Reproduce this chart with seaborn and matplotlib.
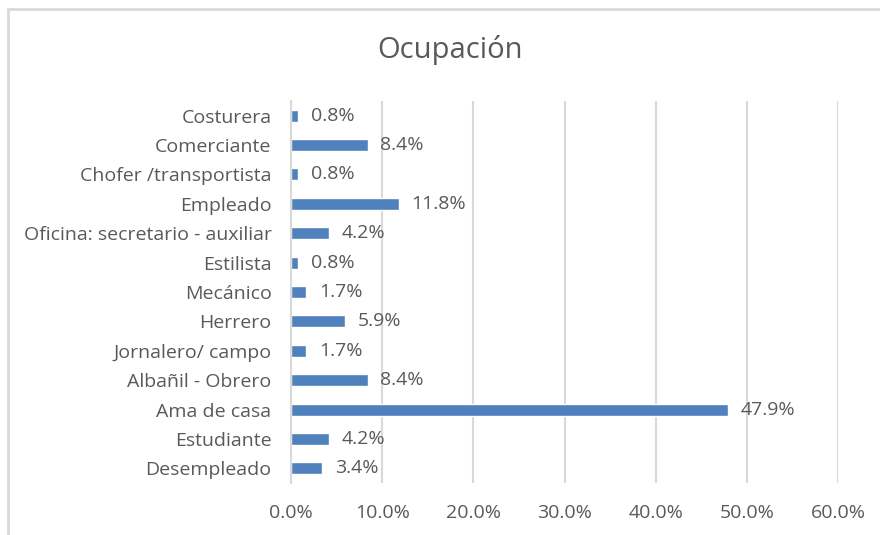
import matplotlib
matplotlib.use('Agg')
import matplotlib.pyplot as plt
import seaborn as sns
import pandas as pd
from matplotlib.patches import Rectangle

# datos (de arriba hacia abajo)
ocupaciones = ['Costurera', 'Comerciante', 'Chofer /transportista', 'Empleado',
               'Oficina: secretario - auxiliar', 'Estilista', 'Mecánico', 'Herrero',
               'Jornalero/ campo', 'Albañil - Obrero', 'Ama de casa', 'Estudiante',
               'Desempleado']
porcentajes = [0.8, 8.4, 0.8, 11.8, 4.2, 0.8, 1.7, 5.9, 1.7, 8.4, 47.9, 4.2, 3.4]
ticks_x = [0, 10, 20, 30, 40, 50, 60]

df = pd.DataFrame({'ocupacion': ocupaciones, 'pct': porcentajes})

sns.set_style('white')
plt.rcParams['font.family'] = ['Open Sans', 'DejaVu Sans']

gris = '#595959'
fig = plt.figure(figsize=(8.8, 5.35), dpi=100)
ax = fig.add_axes([291 / 880, 1 - 483 / 535, (838 - 291) / 880, (483 - 101) / 535])

sns.barplot(data=df, y='ocupacion', x='pct', orient='h', color='#4F81BD',
            saturation=1, width=0.41, ax=ax)

ax.set_xlim(0, 60)
ax.set_xticks(ticks_x)
ax.set_xticklabels([f'{t:.1f}%' for t in ticks_x], fontsize=14, color=gris)
ax.tick_params(axis='x', length=0, pad=15)
ax.tick_params(axis='y', length=0, pad=14, labelsize=14, labelcolor=gris)
ax.set_xlabel('')
ax.set_ylabel('')
ax.grid(axis='x', color='#d9d9d9', linewidth=1.5)
ax.set_axisbelow(True)
for s in ['top', 'right', 'bottom']:
    ax.spines[s].set_visible(False)
ax.spines['left'].set_color('#d9d9d9')
ax.spines['left'].set_linewidth(1.5)

# etiquetas de datos
for i, v in enumerate(porcentajes):
    ax.text(v + 1.4, i, f'{v:.1f}%', va='center', ha='left', fontsize=14, color=gris)

fig.text(450 / 880, 1 - 50 / 535, 'Ocupación', ha='center', va='center',
         fontsize=21, color=gris)

# borde del area del grafico
fig.patches.append(Rectangle((8 / 880, -0.05), 1.1, 1 - 9 / 535 + 0.05,
                             transform=fig.transFigure, fill=False,
                             edgecolor='#d9d9d9', linewidth=2))

fig.savefig('out.png', dpi=100)
